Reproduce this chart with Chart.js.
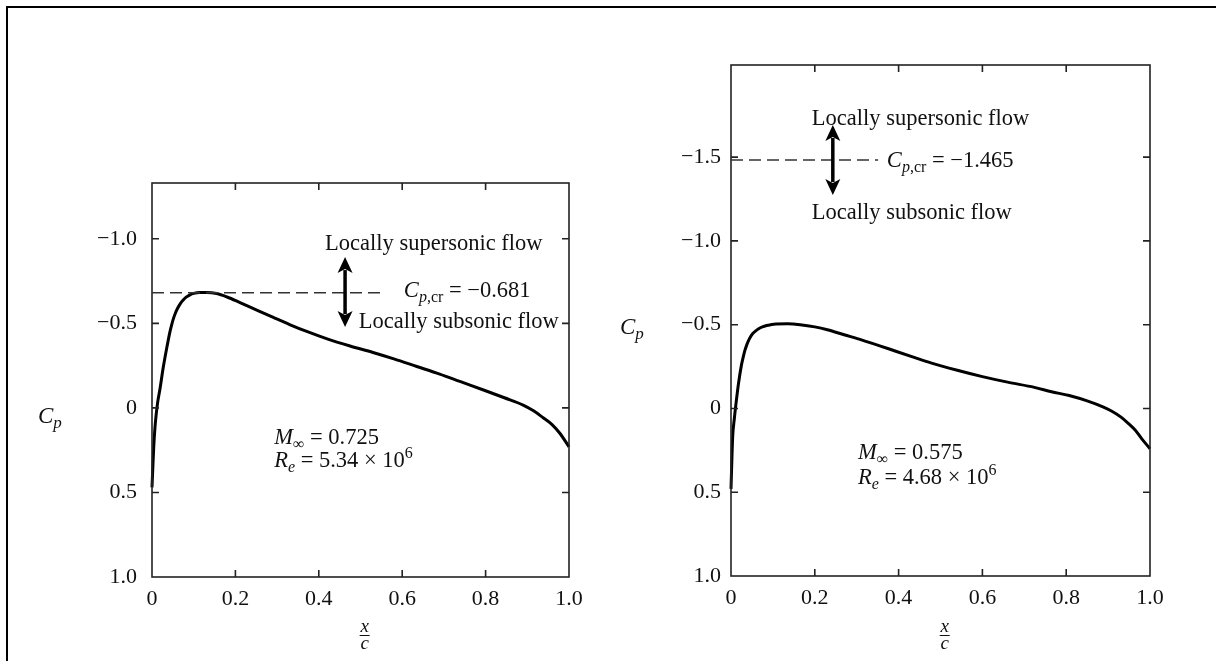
<!DOCTYPE html>
<html><head><meta charset="utf-8">
<script src="https://cdn.jsdelivr.net/npm/chart.js@4.4.0/dist/chart.umd.min.js"></script>
<style>
html,body{margin:0;padding:0;background:#fff;width:1216px;height:661px;overflow:hidden;}
#frame{position:absolute;left:6px;top:6px;width:1300px;height:800px;border-left:2px solid #000;border-top:2px solid #000;}
canvas{position:absolute;top:0;}
#c1{left:0;} #c2{left:608px;}
</style></head><body>
<div id="frame"></div>
<canvas id="c1" width="608" height="661"></canvas>
<canvas id="c2" width="608" height="661"></canvas>
<script>
// ---- data ----
const xTickValues = [0, 0.2, 0.4, 0.6, 0.8, 1.0];
const xTickLabels = ["0", "0.2", "0.4", "0.6", "0.8", "1.0"];
const yTickValuesLeft = [-1.0, -0.5, 0, 0.5, 1.0];
const yTickLabelsLeft = ["\u22121.0", "\u22120.5", "0", "0.5", "1.0"];
const yTickValuesRight = [-1.5, -1.0, -0.5, 0, 0.5, 1.0];
const yTickLabelsRight = ["\u22121.5", "\u22121.0", "\u22120.5", "0", "0.5", "1.0"];

const leftX  = [0, 0.002, 0.004, 0.007, 0.01, 0.014, 0.019, 0.027, 0.035, 0.043, 0.047, 0.051, 0.056, 0.062, 0.068, 0.075, 0.082, 0.09, 0.1, 0.115, 0.13, 0.155, 0.18, 0.211, 0.25, 0.291, 0.33, 0.371, 0.42, 0.475, 0.53, 0.58, 0.635, 0.69, 0.74, 0.795, 0.845, 0.89, 0.915, 0.938, 0.96, 0.978, 1.0];
const leftCp = [0.47, 0.35, 0.24, 0.12, 0.04, -0.04, -0.11, -0.24, -0.35, -0.45, -0.49, -0.525, -0.56, -0.592, -0.617, -0.638, -0.655, -0.667, -0.677, -0.682, -0.682, -0.676, -0.656, -0.623, -0.58, -0.535, -0.493, -0.452, -0.408, -0.366, -0.328, -0.29, -0.245, -0.2, -0.155, -0.106, -0.06, -0.017, 0.017, 0.058, 0.1, 0.15, 0.23];

const rightX  = [0, 0.004, 0.008, 0.012, 0.018, 0.025, 0.029, 0.033, 0.037, 0.041, 0.046, 0.052, 0.059, 0.066, 0.075, 0.085, 0.095, 0.107, 0.135, 0.165, 0.2, 0.23, 0.27, 0.313, 0.355, 0.395, 0.437, 0.477, 0.54, 0.60, 0.66, 0.724, 0.765, 0.807, 0.85, 0.889, 0.91, 0.93, 0.95, 0.965, 0.98, 1.0];
const rightCp = [0.48, 0.17, 0.06, -0.03, -0.15, -0.26, -0.305, -0.345, -0.375, -0.40, -0.425, -0.447, -0.463, -0.476, -0.487, -0.495, -0.5, -0.504, -0.505, -0.50, -0.487, -0.47, -0.44, -0.408, -0.374, -0.34, -0.305, -0.272, -0.228, -0.19, -0.157, -0.126, -0.10, -0.077, -0.045, -0.008, 0.018, 0.05, 0.093, 0.13, 0.18, 0.24];

const leftCpCr = -0.681;
const rightCpCr = -1.465;
const leftMach = "0.725", leftRe = "5.34";
const rightMach = "0.575", rightRe = "4.68";

// ---- drawing helpers ----
const SERIF = '"Liberation Serif", "DejaVu Serif", serif';
const INK = '#111';

function drawRich(ctx, x, yCenter, parts) {
  const base = yCenter + 7;
  let cx = x;
  ctx.textBaseline = 'alphabetic';
  ctx.textAlign = 'left';
  for (const p of parts) {
    const size = p.size || 22.5;
    ctx.font = (p.italic ? 'italic ' : '') + size + 'px ' + SERIF;
    ctx.fillStyle = INK;
    ctx.fillText(p.t, cx, base + (p.dy || 0));
    cx += ctx.measureText(p.t).width;
  }
}

function drawArrow(ctx, x, y1, y2) {
  const hl = 16, hw = 7.5;
  ctx.save();
  ctx.strokeStyle = '#000';
  ctx.fillStyle = '#000';
  ctx.lineWidth = 3.5;
  ctx.beginPath();
  ctx.moveTo(x, y1 + hl - 3);
  ctx.lineTo(x, y2 - hl + 3);
  ctx.stroke();
  ctx.beginPath();
  ctx.moveTo(x, y1); ctx.lineTo(x - hw, y1 + hl); ctx.lineTo(x, y1 + hl - 4); ctx.lineTo(x + hw, y1 + hl); ctx.closePath();
  ctx.fill();
  ctx.beginPath();
  ctx.moveTo(x, y2); ctx.lineTo(x - hw, y2 - hl); ctx.lineTo(x, y2 - hl + 4); ctx.lineTo(x + hw, y2 - hl); ctx.closePath();
  ctx.fill();
  ctx.restore();
}

function makePlugin(ann) {
  return {
    id: 'decor',
    afterDraw(chart) {
      const ctx = chart.ctx;
      const a = chart.chartArea;
      const xs = chart.scales.x, ys = chart.scales.y;
      ctx.save();
      // frame
      ctx.strokeStyle = '#222';
      ctx.lineWidth = 1.6;
      ctx.strokeRect(a.left, a.top, a.right - a.left, a.bottom - a.top);
      // inward ticks on all four sides
      const tl = 7;
      ctx.beginPath();
      xs.ticks.forEach(t => {
        if (t.value <= xs.min || t.value >= xs.max) return;
        const px = xs.getPixelForValue(t.value);
        ctx.moveTo(px, a.bottom); ctx.lineTo(px, a.bottom - tl);
        ctx.moveTo(px, a.top); ctx.lineTo(px, a.top + tl);
      });
      ys.ticks.forEach(t => {
        if (t.value <= ys.min || t.value >= ys.max) return;
        const py = ys.getPixelForValue(t.value);
        ctx.moveTo(a.left, py); ctx.lineTo(a.left + tl, py);
        ctx.moveTo(a.right, py); ctx.lineTo(a.right - tl, py);
      });
      ctx.stroke();

      // dashed critical pressure line
      const dy = ys.getPixelForValue(ann.cpcr) + (ann.dashShift || 0);
      ctx.strokeStyle = '#333';
      ctx.lineWidth = 1.5;
      ctx.setLineDash([12, 6]);
      ctx.beginPath();
      ctx.moveTo(xs.getPixelForValue(0), dy);
      ctx.lineTo(xs.getPixelForValue(ann.dashEnd), dy);
      ctx.stroke();
      ctx.setLineDash([]);

      // arrow
      drawArrow(ctx, xs.getPixelForValue(ann.arrow[0]), ys.getPixelForValue(ann.arrow[1]), ys.getPixelForValue(ann.arrow[2]));

      // texts
      const P = (x, y) => [xs.getPixelForValue(x), ys.getPixelForValue(y)];
      let p = P(...ann.sup);
      drawRich(ctx, p[0], p[1], [{t: 'Locally supersonic flow'}]);
      p = P(...ann.sub);
      drawRich(ctx, p[0], p[1], [{t: 'Locally subsonic flow'}]);
      p = P(...ann.crLabel);
      drawRich(ctx, p[0], p[1], [
        {t: 'C', italic: true},
        {t: 'p', italic: true, size: 16, dy: 5},
        {t: ',cr', size: 16, dy: 5},
        {t: ' = \u2212' + Math.abs(ann.cpcr).toFixed(3)}
      ]);
      p = P(...ann.mach);
      drawRich(ctx, p[0], p[1], [
        {t: 'M', italic: true},
        {t: '\u221E', size: 16, dy: 5},
        {t: ' = ' + ann.machVal}
      ]);
      p = P(...ann.re);
      drawRich(ctx, p[0], p[1], [
        {t: 'R', italic: true},
        {t: 'e', italic: true, size: 16, dy: 5},
        {t: ' = ' + ann.reVal + ' \u00D7 10'},
        {t: '6', size: 16, dy: -9}
      ]);

      // y-axis title C_p
      drawRich(ctx, ann.yTitle[0], ann.yTitle[1], [
        {t: 'C', italic: true, size: 23},
        {t: 'p', italic: true, size: 17, dy: 5}
      ]);

      // x-axis title x / c
      const fx = xs.getPixelForValue(0.51);
      ctx.fillStyle = INK;
      ctx.font = 'italic 19px ' + SERIF;
      ctx.textAlign = 'center';
      ctx.textBaseline = 'alphabetic';
      ctx.fillText('x', fx, 632);
      ctx.fillText('c', fx, 649);
      ctx.strokeStyle = INK;
      ctx.lineWidth = 1;
      ctx.beginPath();
      ctx.moveTo(fx - 5, 635.5); ctx.lineTo(fx + 5, 635.5);
      ctx.stroke();
      ctx.restore();
    }
  };
}

function makeChart(canvasId, xs, cps, yMin, yTickVals, yTickLabels, yPad, area, ann) {
  const W = 608, H = 661, YW = 60, XH = 40;
  return new Chart(document.getElementById(canvasId), {
    type: 'line',
    data: {
      datasets: [{
        data: xs.map((x, i) => ({x: x, y: cps[i]})),
        borderColor: '#000',
        borderWidth: 3,
        pointRadius: 0,
        fill: false,
        cubicInterpolationMode: 'monotone',
        clip: false
      }]
    },
    options: {
      responsive: false,
      animation: false,
      devicePixelRatio: 1,
      events: [],
      layout: {padding: {left: area.left - YW, top: area.top, right: W - area.right, bottom: H - area.bottom - XH}},
      plugins: {legend: {display: false}, tooltip: {enabled: false}, title: {display: false}},
      scales: {
        x: {
          type: 'linear', position: 'bottom', min: 0, max: 1,
          afterBuildTicks: s => { s.ticks = xTickValues.map(v => ({value: v})); },
          afterFit: s => { s.height = XH; s.paddingLeft = 0; s.paddingRight = 0; },
          grid: {display: false, drawTicks: false},
          border: {display: false},
          ticks: {
            autoSkip: false, maxRotation: 0, padding: 9, color: INK,
            font: {family: SERIF, size: 22},
            callback: (v, i) => xTickLabels[i]
          }
        },
        y: {
          type: 'linear', position: 'left', reverse: true, min: yMin, max: 1,
          afterBuildTicks: s => { s.ticks = yTickVals.map(v => ({value: v})); },
          afterFit: s => { s.width = YW; s.paddingTop = 0; s.paddingBottom = 0; },
          grid: {display: false, drawTicks: false},
          border: {display: false},
          ticks: {
            autoSkip: false, padding: yPad, color: INK,
            font: {family: SERIF, size: 22},
            callback: (v, i) => yTickLabels[i]
          }
        }
      }
    },
    plugins: [makePlugin(ann)]
  });
}

makeChart('c1', leftX, leftCp, -1.33, yTickValuesLeft, yTickLabelsLeft, 15,
  {left: 152, top: 183, right: 569, bottom: 577},
  {
    cpcr: leftCpCr, dashEnd: 0.554,
    arrow: [0.463, -0.892, -0.478],
    sup: [0.415, -0.975], sub: [0.496, -0.514], crLabel: [0.604, -0.697],
    mach: [0.293, 0.172], re: [0.293, 0.308],
    machVal: leftMach, reVal: leftRe,
    yTitle: [38, 416]
  });

makeChart('c2', rightX, rightCp, -2.05, yTickValuesRight, yTickLabelsRight, 10,
  {left: 123, top: 65, right: 542, bottom: 576},
  {
    cpcr: rightCpCr, dashEnd: 0.351, dashShift: -3,
    arrow: [0.243, -1.692, -1.274],
    sup: [0.193, -1.734], sub: [0.193, -1.172], crLabel: [0.372, -1.483],
    mach: [0.303, 0.26], re: [0.303, 0.41],
    machVal: rightMach, reVal: rightRe,
    yTitle: [12, 327]
  });
</script>
</body></html>
